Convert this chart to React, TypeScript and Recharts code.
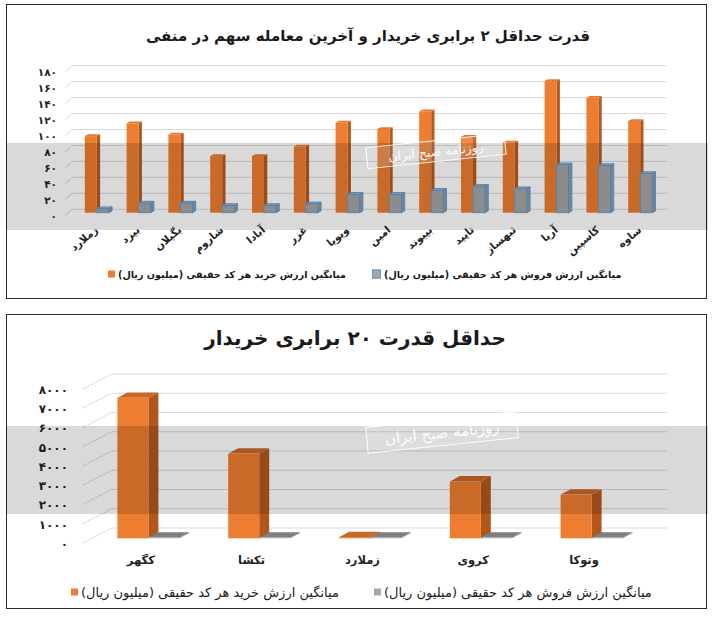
import React from 'react';
import { BarChart, Bar, XAxis, YAxis, CartesianGrid } from 'recharts';

// ---------- data ----------
const title1 = 'قدرت حداقل ۲ برابری خریدار و آخرین معامله سهم در منفی';
const title2 = 'حداقل قدرت ۲۰ برابری خریدار';
const buyName = 'میانگین ارزش خرید هر کد حقیقی (میلیون ریال)';
const sellName = 'میانگین ارزش فروش هر کد حقیقی (میلیون ریال)';
const watermarkText = 'روزنامه صبح ایران';

const symbols1 = ['زملارد', 'بیزد', 'بگیلان', 'شاروم', 'آبادا', 'غزر', 'ویویا', 'امین', 'بپیوند', 'تاپید', 'ثبهساز', 'آریا', 'کاسپین', 'ساوه'];
const buy1 = [96, 112, 98, 71, 71, 83, 113, 105, 127, 95, 88, 165, 144, 115];
const sell1 = [5, 12, 12, 9, 9, 11, 23, 23, 28, 33, 30, 60, 59, 49];
const yTicks1 = [0, 20, 40, 60, 80, 100, 120, 140, 160, 180];

const symbols2 = ['کگهر', 'تکشا', 'زملارد', 'کروی', 'وتوکا'];
const buy2 = [7300, 4400, 60, 2950, 2270];
const sell2 = [40, 40, 40, 40, 40];
const yTicks2 = [0, 1000, 2000, 3000, 4000, 5000, 6000, 7000, 8000];

const data1 = symbols1.map((name, i) => ({ name, buy: buy1[i], sell: sell1[i] }));
const data2 = symbols2.map((name, i) => ({ name, buy: buy2[i], sell: sell2[i] }));

// ---------- styles ----------
const FONT = "'DejaVu Sans', sans-serif";
const ORANGE = '#ED7D31';
const GRAY = '#A5A5A5';
const BLUE_EDGE = '#5B9BD5';

const toFa = (v: number | string) => String(v).replace(/\d/g, (d) => '۰۱۲۳۴۵۶۷۸۹'[Number(d)]);

const make3D = (dx: number, dy: number, side: string, top: string, stroke?: string) => (props: any) => {
  const { x, y, width, height, fill } = props;
  if (x == null || y == null || width == null) return null;
  const h = Math.max(Number(height) || 0, 0.6);
  const yy = Number(y) + (Number(height) || 0) - h;
  const sw = stroke ? 0.9 : 0;
  return (
    <g>
      <path
        d={`M${x + width},${yy} L${x + width + dx},${yy - dy} L${x + width + dx},${yy + h - dy} L${x + width},${yy + h} Z`}
        fill={side}
        stroke={stroke || 'none'}
        strokeWidth={sw}
      />
      <path
        d={`M${x},${yy} L${x + dx},${yy - dy} L${x + width + dx},${yy - dy} L${x + width},${yy} Z`}
        fill={top}
        stroke={stroke || 'none'}
        strokeWidth={sw}
      />
      <rect x={x} y={yy} width={width} height={h} fill={fill} stroke={stroke || 'none'} strokeWidth={sw} />
    </g>
  );
};

const orange1 = make3D(3.3, 1.8, '#B75A1E', '#E27A35');
const gray1 = make3D(3.3, 1.8, '#8E9AA8', '#A9B4C0', BLUE_EDGE);
const orange2 = make3D(10, 5.4, '#B2561C', '#C8682A');
const gray2 = make3D(10, 5.4, '#8A8A8A', '#7E7E7E');

// chart 1 geometry
const C1_LEFT = 75.8;
const C1_YAXIS_W = 60;
// chart 2 geometry
const C2_TOP = 310;
const C2_LEFT = 93.4;
const C2_YAXIS_W = 60;

const YTick1 = (p: any) => (
  <text x={57} y={p.y + 4} textAnchor="end" dominantBaseline="middle" fontFamily={FONT} fontWeight="bold" fontSize={10.5} fill="#222">
    {toFa(p.payload.value)}
  </text>
);

const XTick1 = (p: any) => {
  const ax = p.x + 2;
  const ay = 231;
  return (
    <text x={ax} y={ay} transform={`rotate(-40 ${ax} ${ay})`} textAnchor="end" fontFamily={FONT} fontWeight="bold" fontSize={10.5} fill="#222">
      {p.payload.value}
    </text>
  );
};

const YTick2 = (p: any) => (
  <text x={68} y={p.y + 6} textAnchor="end" dominantBaseline="middle" fontFamily={FONT} fontWeight="bold" fontSize={12} fill="#222">
    {toFa(p.payload.value)}
  </text>
);

const XTick2 = (p: any) => (
  <text x={p.x - 8} y={250} textAnchor="middle" dominantBaseline="middle" fontFamily={FONT} fontWeight="bold" fontSize={11.5} fill="#222">
    {p.payload.value}
  </text>
);

const grid1 = (p: any) => (
  <g key={`g1-${p.index}`}>
    <line x1={72} y1={p.y1 - 3.4} x2={667} y2={p.y1 - 3.4} stroke="#D9D9D9" strokeWidth={1} />
    <line x1={65} y1={p.y1 + 3} x2={72} y2={p.y1 - 3.4} stroke="#D9D9D9" strokeWidth={1} />
  </g>
);

const grid2 = (p: any) => (
  <g key={`g2-${p.index}`}>
    <line x1={111.7} y1={p.y1 - 10.3} x2={667} y2={p.y1 - 10.3} stroke="#D9D9D9" strokeWidth={1} />
    <line x1={83} y1={p.y1 + 4.5} x2={111.7} y2={p.y1 - 10.3} stroke="#BDBDBD" strokeWidth={1} strokeDasharray="1.5 1.5" />
  </g>
);

const Frame = ({ top }: { top: number }) => (
  <div style={{ position: 'absolute', left: 6, top, width: 699, height: 293, border: '1.6px solid #2a2a2a', boxSizing: 'content-box' }} />
);

const Title = ({ text, cx, cy, size }: { text: string; cx: number; cy: number; size: number }) => (
  <div
    style={{
      position: 'absolute',
      left: cx,
      top: cy,
      transform: 'translate(-50%, -50%)',
      whiteSpace: 'nowrap',
      direction: 'rtl',
      fontFamily: FONT,
      fontWeight: 'bold',
      fontSize: size,
      color: '#1a1a1a',
    }}
  >
    {text}
  </div>
);

const LegendItem = ({ left, cy, color, border, text, size, bold }: any) => (
  <div style={{ position: 'absolute', left, top: cy, transform: 'translateY(-50%)', display: 'flex', alignItems: 'center', whiteSpace: 'nowrap' }}>
    <div style={{ width: 7, height: 7, background: color, border: border ? `1px solid ${border}` : 'none', marginRight: 3 }} />
    <span style={{ direction: 'rtl', unicodeBidi: 'embed', fontFamily: FONT, fontSize: size, fontWeight: bold ? 'bold' : 'normal', color: '#1a1a1a' }}>{text}</span>
  </div>
);

const Band = ({ top, height }: { top: number; height: number }) => (
  <div style={{ position: 'absolute', left: 6, top, width: 702, height, background: 'rgba(0,0,0,0.15)', pointerEvents: 'none' }} />
);

const Stamp = ({ left, top, width, height, size }: any) => (
  <div
    style={{
      position: 'absolute',
      left,
      top,
      width,
      height,
      border: '1.5px solid rgba(255,255,255,0.9)',
      background: 'rgba(255,255,255,0.12)',
      transform: 'rotate(-6deg)',
      display: 'flex',
      alignItems: 'center',
      justifyContent: 'center',
      boxSizing: 'border-box',
      direction: 'rtl',
      fontFamily: FONT,
      fontSize: size,
      color: 'rgba(255,255,255,0.95)',
      pointerEvents: 'none',
      whiteSpace: 'nowrap',
    }}
  >
    {watermarkText}
  </div>
);

export default function App() {
  return (
    <div style={{ position: 'absolute', left: 0, top: 0, width: 714, height: 621, background: '#fff', overflow: 'hidden', fontFamily: FONT }}>
      <Frame top={4} />
      <Frame top={314} />

      {/* chart 1 */}
      <div style={{ position: 'absolute', left: 0, top: 0 }}>
        <BarChart
          width={714}
          height={300}
          data={data1}
          margin={{ top: 69.1, right: 53, bottom: 47.3, left: C1_LEFT - C1_YAXIS_W }}
          barGap={0}
          barSize={12}
        >
          <CartesianGrid vertical={false} horizontal={grid1} />
          <XAxis dataKey="name" height={40} interval={0} axisLine={false} tickLine={false} tick={XTick1} />
          <YAxis width={C1_YAXIS_W} domain={[0, 180]} ticks={yTicks1} interval={0} axisLine={false} tickLine={false} tick={YTick1} />
          <Bar dataKey="buy" name={buyName} fill={ORANGE} shape={orange1} isAnimationActive={false} />
          <Bar dataKey="sell" name={sellName} fill={GRAY} shape={gray1} isAnimationActive={false} />
        </BarChart>
      </div>

      {/* chart 2 */}
      <div style={{ position: 'absolute', left: 0, top: C2_TOP }}>
        <BarChart
          width={714}
          height={311}
          data={data2}
          margin={{ top: 74.3, right: 66.6, bottom: 52.7, left: C2_LEFT - C2_YAXIS_W }}
          barGap={0}
          barSize={31}
        >
          <CartesianGrid vertical={false} horizontal={grid2} />
          <XAxis dataKey="name" height={30} interval={0} axisLine={false} tickLine={false} tick={XTick2} />
          <YAxis width={C2_YAXIS_W} domain={[0, 8000]} ticks={yTicks2} interval={0} axisLine={false} tickLine={false} tick={YTick2} />
          <Bar dataKey="buy" name={buyName} fill={ORANGE} shape={orange2} isAnimationActive={false} />
          <Bar dataKey="sell" name={sellName} fill={GRAY} shape={gray2} isAnimationActive={false} />
        </BarChart>
      </div>

      <Title text={title1} cx={368} cy={36} size={15} />
      <Title text={title2} cx={355} cy={338} size={20} />

      <LegendItem left={108} cy={274} color={ORANGE} text={buyName} size={9.6} bold />
      <LegendItem left={372} cy={274} color={GRAY} border={BLUE_EDGE} text={sellName} size={9.6} bold />

      <LegendItem left={71} cy={592} color={ORANGE} text={buyName} size={13} />
      <LegendItem left={374} cy={592} color={GRAY} text={sellName} size={13} />

      <Band top={143} height={87} />
      <Band top={426} height={88} />
      <Stamp left={366} top={140} width={140} height={22} size={12.5} />
      <Stamp left={366} top={419} width={152} height={27} size={15} />
    </div>
  );
}
